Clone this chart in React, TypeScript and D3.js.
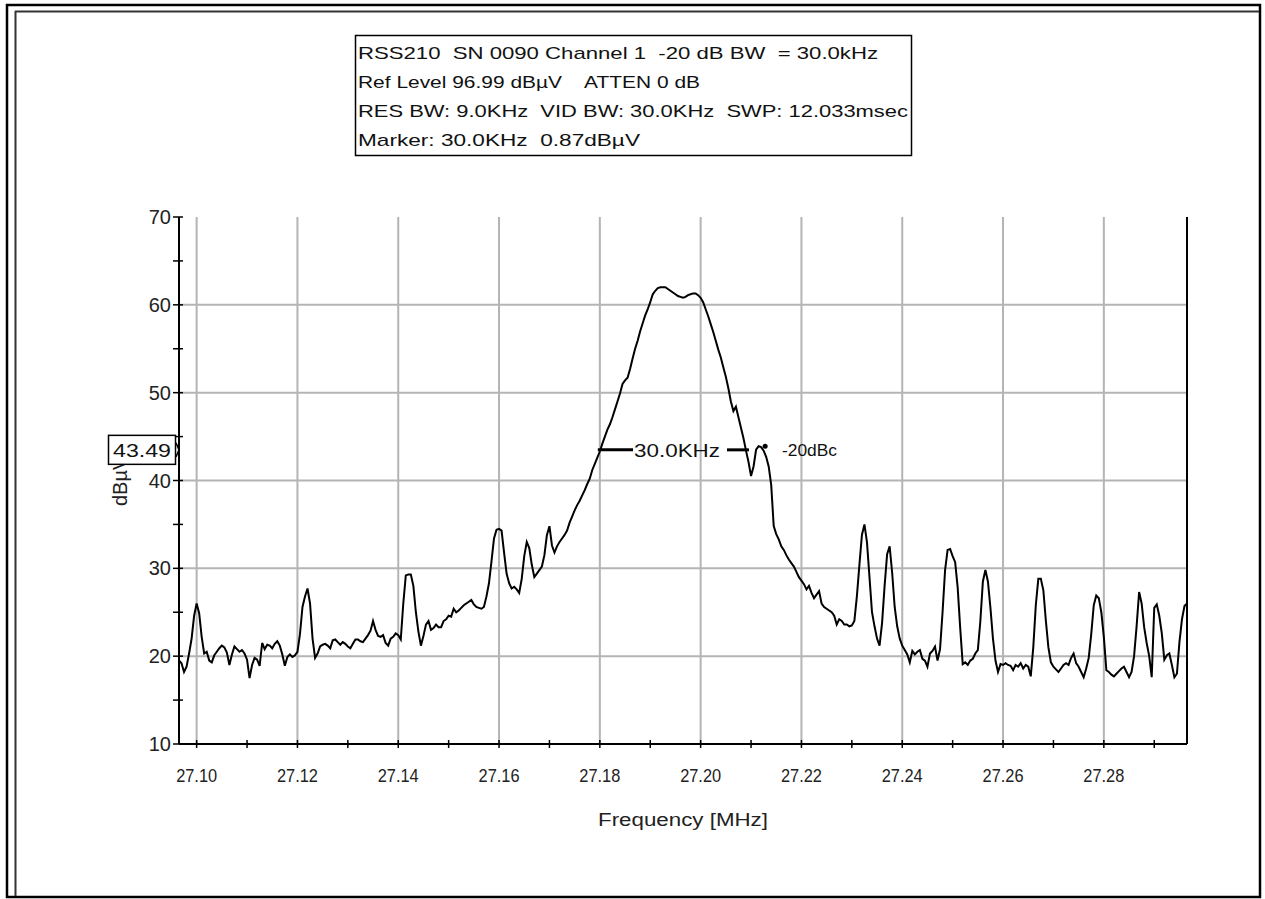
import * as d3 from 'd3';
import React, { useRef, useEffect } from 'react';

// sweep: 401 points from startFreq with a fixed step (MHz)
const startFreq = 27.0965;
const stopFreq = 27.2965;
const stepFreq = 0.0005;

// trace level, dBuV (20 points per 0.01 MHz)
const level = [
  19.5, 19.2, 18.2, 18.8, 20.3, 22.0, 24.6, 26.0, 24.9, 22.2, 20.3, 20.5, 19.5, 19.3, 20.1, 20.5, 20.9, 21.2, 21.0, 20.4,
  19.0, 20.2, 21.1, 20.8, 20.5, 20.7, 20.3, 19.6, 17.5, 19.0, 19.8, 19.6, 18.9, 21.5, 20.8, 21.3, 21.2, 20.9, 21.4, 21.7,
  21.2, 20.2, 18.9, 19.9, 20.2, 19.9, 20.1, 20.5, 22.5, 25.6, 26.8, 27.7, 26.0, 22.0, 19.8, 20.3, 21.1, 21.3, 21.4, 21.2,
  20.9, 21.8, 21.9, 21.6, 21.3, 21.6, 21.4, 21.1, 20.9, 21.4, 21.9, 21.9, 21.7, 21.6, 22.0, 22.4, 22.9, 24.0, 23.0, 22.3,
  22.2, 22.4, 21.5, 21.2, 22.0, 22.2, 22.6, 22.4, 21.9, 26.0, 29.2, 29.3, 29.3, 28.0, 25.0, 22.8, 21.2, 22.3, 23.6, 24.0,
  23.0, 23.2, 23.6, 23.3, 23.3, 24.0, 24.2, 24.6, 24.5, 25.4, 25.0, 25.2, 25.5, 25.8, 26.0, 26.2, 26.4, 25.9, 25.6, 25.5,
  25.4, 25.6, 26.8, 28.3, 30.8, 33.4, 34.4, 34.5, 34.3, 31.8, 29.4, 28.3, 27.7, 27.9, 27.6, 27.2, 28.8, 31.4, 33.0, 32.3,
  30.4, 29.0, 29.4, 29.8, 30.2, 31.5, 33.8, 34.8, 32.6, 31.8, 32.5, 33.0, 33.4, 33.8, 34.3, 35.2, 35.9, 36.6, 37.2, 37.7,
  38.3, 38.9, 39.6, 40.2, 41.2, 41.9, 42.6, 43.3, 44.2, 45.0, 45.8, 46.4, 47.2, 48.1, 49.0, 49.9, 51.0, 51.4, 51.7, 52.7,
  53.9, 55.0, 55.9, 57.0, 57.9, 58.8, 59.5, 60.3, 61.2, 61.6, 61.9, 62.0, 62.0, 62.0, 61.8, 61.6, 61.4, 61.2, 61.0, 60.9,
  60.8, 60.9, 61.1, 61.2, 61.3, 61.3, 61.1, 60.8, 60.3, 59.5, 58.7, 57.8, 56.9, 55.9, 54.9, 54.0, 52.9, 51.8, 50.5, 49.0,
  47.9, 48.4, 47.2, 46.0, 44.8, 43.4, 42.1, 40.5, 41.6, 43.5, 43.9, 43.8, 43.4, 42.7, 41.6, 39.5, 34.8, 33.9, 33.3, 32.5,
  32.1, 31.5, 31.0, 30.6, 30.2, 29.6, 29.0, 28.6, 28.2, 27.6, 28.0, 27.2, 26.6, 27.0, 27.4, 26.0, 25.6, 25.4, 25.2, 25.0,
  24.6, 23.6, 24.2, 24.0, 23.6, 23.6, 23.4, 23.5, 24.0, 26.8, 30.4, 33.8, 35.0, 33.0, 29.0, 25.0, 23.4, 22.0, 21.2, 23.8,
  28.0, 31.6, 32.5, 29.5, 25.6, 23.4, 22.0, 21.2, 20.7, 20.2, 19.3, 20.6, 20.2, 20.5, 20.7, 19.7, 19.5, 18.8, 20.3, 20.6,
  21.1, 19.5, 20.8, 25.0, 29.8, 32.1, 32.2, 31.4, 30.7, 27.8, 23.2, 19.1, 19.3, 19.0, 19.5, 19.7, 20.3, 20.7, 24.0, 28.5,
  29.8, 28.5, 25.5, 22.0, 19.5, 18.2, 19.1, 19.0, 19.2, 19.0, 18.9, 18.4, 19.0, 18.8, 19.2, 18.6, 19.0, 18.8, 17.7, 21.0,
  25.8, 28.8, 28.8, 27.5, 24.0, 21.0, 19.3, 18.8, 18.5, 18.2, 18.6, 19.0, 19.2, 19.0, 19.8, 20.3, 19.2, 18.8, 18.2, 17.6,
  18.6, 19.8, 22.5, 25.8, 26.9, 26.6, 25.0, 22.2, 18.4, 18.2, 17.9, 17.7, 18.0, 18.3, 18.6, 18.8, 18.2, 17.6, 18.2, 20.0,
  23.4, 27.3, 26.0, 23.3, 21.5, 20.0, 17.6, 25.5, 25.9, 24.6, 22.6, 19.6, 20.1, 20.3, 19.0, 17.6, 18.0, 21.6, 24.2, 25.7,
  26.0,
];

const xLabels = ['27.10', '27.12', '27.14', '27.16', '27.18', '27.20', '27.22', '27.24', '27.26', '27.28'];
const xLabelFreqs = [27.10, 27.12, 27.14, 27.16, 27.18, 27.20, 27.22, 27.24, 27.26, 27.28];
const xMinorFreqs = [27.10, 27.11, 27.12, 27.13, 27.14, 27.15, 27.16, 27.17, 27.18, 27.19,
  27.20, 27.21, 27.22, 27.23, 27.24, 27.25, 27.26, 27.27, 27.28, 27.29];
const yLabels = [10, 20, 30, 40, 50, 60, 70];
const yMinor = [15, 25, 35, 45, 55, 65];
const yGrid = [20, 30, 40, 50, 60];

const headerLines = [
  'RSS210  SN 0090 Channel 1  -20 dB BW  = 30.0kHz',
  'Ref Level 96.99 dB\u00b5V    ATTEN 0 dB',
  'RES BW: 9.0KHz  VID BW: 30.0KHz  SWP: 12.033msec',
  'Marker: 30.0KHz  0.87dB\u00b5V',
];
const headerWidths = [520, 342, 550, 282];

// -20 dBc bandwidth marker
const bwLow = 27.1796;
const bwHigh = 27.2096;
const bwLevel = 43.49;
const peakMarkFreq = 27.2128;
const peakMarkLevel = 43.9;

const W = 1265;
const H = 899;

function SpectrumChart() {
  const ref = useRef<SVGSVGElement>(null);

  useEffect(() => {
    draw();
  }, []);

  const draw = () => {
    const svg = d3.select(ref.current);
    svg.selectAll('*').remove();

    const font = 'Liberation Sans, Arial, sans-serif';
    const left = 179, right = 1187, top = 217, bottom = 744;

    const x = d3.scaleLinear().domain([startFreq, stopFreq]).range([left, right]);
    const y = d3.scaleLinear().domain([10, 70]).range([bottom, top]);

    svg.append('rect').attr('width', W).attr('height', H).attr('fill', '#fff');

    // window frame
    svg.append('rect')
      .attr('x', 7).attr('y', 5).attr('width', 1253).attr('height', 892)
      .attr('fill', 'none').attr('stroke', '#000').attr('stroke-width', 2.5);
    svg.append('line').attr('x1', 15.5).attr('x2', 15.5).attr('y1', 11).attr('y2', 896)
      .attr('stroke', '#333').attr('stroke-width', 2);
    svg.append('line').attr('x1', 15).attr('x2', 1259).attr('y1', 11.5).attr('y2', 11.5)
      .attr('stroke', '#333').attr('stroke-width', 2);

    // header box
    svg.append('rect')
      .attr('x', 355.5).attr('y', 35.5).attr('width', 556).attr('height', 120)
      .attr('fill', '#fff').attr('stroke', '#000').attr('stroke-width', 1.5);
    svg.selectAll('text.hdr').data(headerLines).enter().append('text')
      .attr('class', 'hdr')
      .attr('x', 358)
      .attr('y', (d, i) => 59 + i * 29)
      .attr('font-family', font).attr('font-size', 17).attr('fill', '#111')
      .attr('textLength', (d, i) => headerWidths[i])
      .attr('lengthAdjust', 'spacingAndGlyphs')
      .style('white-space', 'pre')
      .text(d => d);

    // grid
    svg.selectAll('line.vg').data(xLabelFreqs).enter().append('line')
      .attr('x1', d => x(d)).attr('x2', d => x(d)).attr('y1', top).attr('y2', bottom)
      .attr('stroke', '#b4b4b4').attr('stroke-width', 2);
    svg.selectAll('line.hg').data(yGrid).enter().append('line')
      .attr('x1', left).attr('x2', right).attr('y1', d => y(d)).attr('y2', d => y(d))
      .attr('stroke', '#b4b4b4').attr('stroke-width', 2);

    // axes
    svg.append('line').attr('x1', left).attr('x2', left).attr('y1', top).attr('y2', bottom)
      .attr('stroke', '#000').attr('stroke-width', 2);
    svg.append('line').attr('x1', left).attr('x2', right).attr('y1', bottom).attr('y2', bottom)
      .attr('stroke', '#000').attr('stroke-width', 2);
    svg.append('line').attr('x1', right).attr('x2', right).attr('y1', top).attr('y2', bottom)
      .attr('stroke', '#000').attr('stroke-width', 2);

    svg.selectAll('line.yt').data(yLabels.concat(yMinor)).enter().append('line')
      .attr('x1', left - 6).attr('x2', left + 4).attr('y1', d => y(d)).attr('y2', d => y(d))
      .attr('stroke', '#000').attr('stroke-width', 1.5);
    svg.selectAll('line.xt').data(xMinorFreqs).enter().append('line')
      .attr('x1', d => x(d)).attr('x2', d => x(d)).attr('y1', bottom - 4).attr('y2', bottom + 4)
      .attr('stroke', '#000').attr('stroke-width', 1.5);

    svg.selectAll('text.yl').data(yLabels).enter().append('text')
      .attr('x', 171).attr('y', d => y(d) + 7)
      .attr('text-anchor', 'end')
      .attr('font-family', font).attr('font-size', 20).attr('fill', '#222')
      .text(d => d);
    svg.selectAll('text.xl').data(xLabels).enter().append('text')
      .attr('x', (d, i) => x(xLabelFreqs[i])).attr('y', 782)
      .attr('text-anchor', 'middle')
      .attr('font-family', font).attr('font-size', 19).attr('fill', '#222')
      .attr('textLength', 41).attr('lengthAdjust', 'spacingAndGlyphs')
      .text(d => d);

    svg.append('text')
      .attr('x', 683).attr('y', 826).attr('text-anchor', 'middle')
      .attr('font-family', font).attr('font-size', 18).attr('fill', '#222')
      .attr('textLength', 170).attr('lengthAdjust', 'spacingAndGlyphs')
      .text('Frequency [MHz]');

    svg.append('text')
      .attr('transform', `translate(127, 506) rotate(-90)`)
      .attr('text-anchor', 'start')
      .attr('font-family', font).attr('font-size', 20).attr('fill', '#222')
      .text('dB\u00b5V');

    // trace
    const line = d3.line<number>()
      .x((d, i) => x(startFreq + i * stepFreq))
      .y(d => y(d));
    svg.append('path')
      .datum(level)
      .attr('d', line)
      .attr('fill', 'none').attr('stroke', '#000').attr('stroke-width', 2);

    // -20 dBc bandwidth marker
    const yb = y(bwLevel);
    svg.append('line').attr('x1', x(bwLow)).attr('x2', 633).attr('y1', yb).attr('y2', yb)
      .attr('stroke', '#000').attr('stroke-width', 3);
    svg.append('line').attr('x1', 727).attr('x2', x(bwHigh)).attr('y1', yb).attr('y2', yb)
      .attr('stroke', '#000').attr('stroke-width', 3);
    svg.append('text')
      .attr('x', 677).attr('y', yb + 7).attr('text-anchor', 'middle')
      .attr('font-family', font).attr('font-size', 18).attr('fill', '#111')
      .attr('textLength', 86).attr('lengthAdjust', 'spacingAndGlyphs')
      .text('30.0KHz');
    svg.append('circle')
      .attr('cx', x(peakMarkFreq)).attr('cy', y(peakMarkLevel)).attr('r', 2.5).attr('fill', '#000');
    svg.append('text')
      .attr('x', 782).attr('y', yb + 6)
      .attr('font-family', font).attr('font-size', 16).attr('fill', '#111')
      .attr('textLength', 55).attr('lengthAdjust', 'spacingAndGlyphs')
      .text('-20dBc');

    // level readout box on the y axis
    svg.append('rect')
      .attr('x', 108.5).attr('y', yb - 14.5).attr('width', 67).attr('height', 29)
      .attr('fill', '#fff').attr('stroke', '#000').attr('stroke-width', 1.5);
    svg.append('text')
      .attr('x', 142).attr('y', yb + 7).attr('text-anchor', 'middle')
      .attr('font-family', font).attr('font-size', 18).attr('fill', '#111')
      .attr('textLength', 58).attr('lengthAdjust', 'spacingAndGlyphs')
      .text(bwLevel.toFixed(2));
    svg.append('path')
      .attr('d', `M176,${yb - 7} L179,${yb} L176,${yb + 7}`)
      .attr('fill', 'none').attr('stroke', '#000').attr('stroke-width', 1.5);
  };

  return (
    <svg ref={ref} width={W} height={H} style={{ position: 'absolute', left: 0, top: 0 }} />
  );
}

export default function App() {
  return <SpectrumChart />;
}
